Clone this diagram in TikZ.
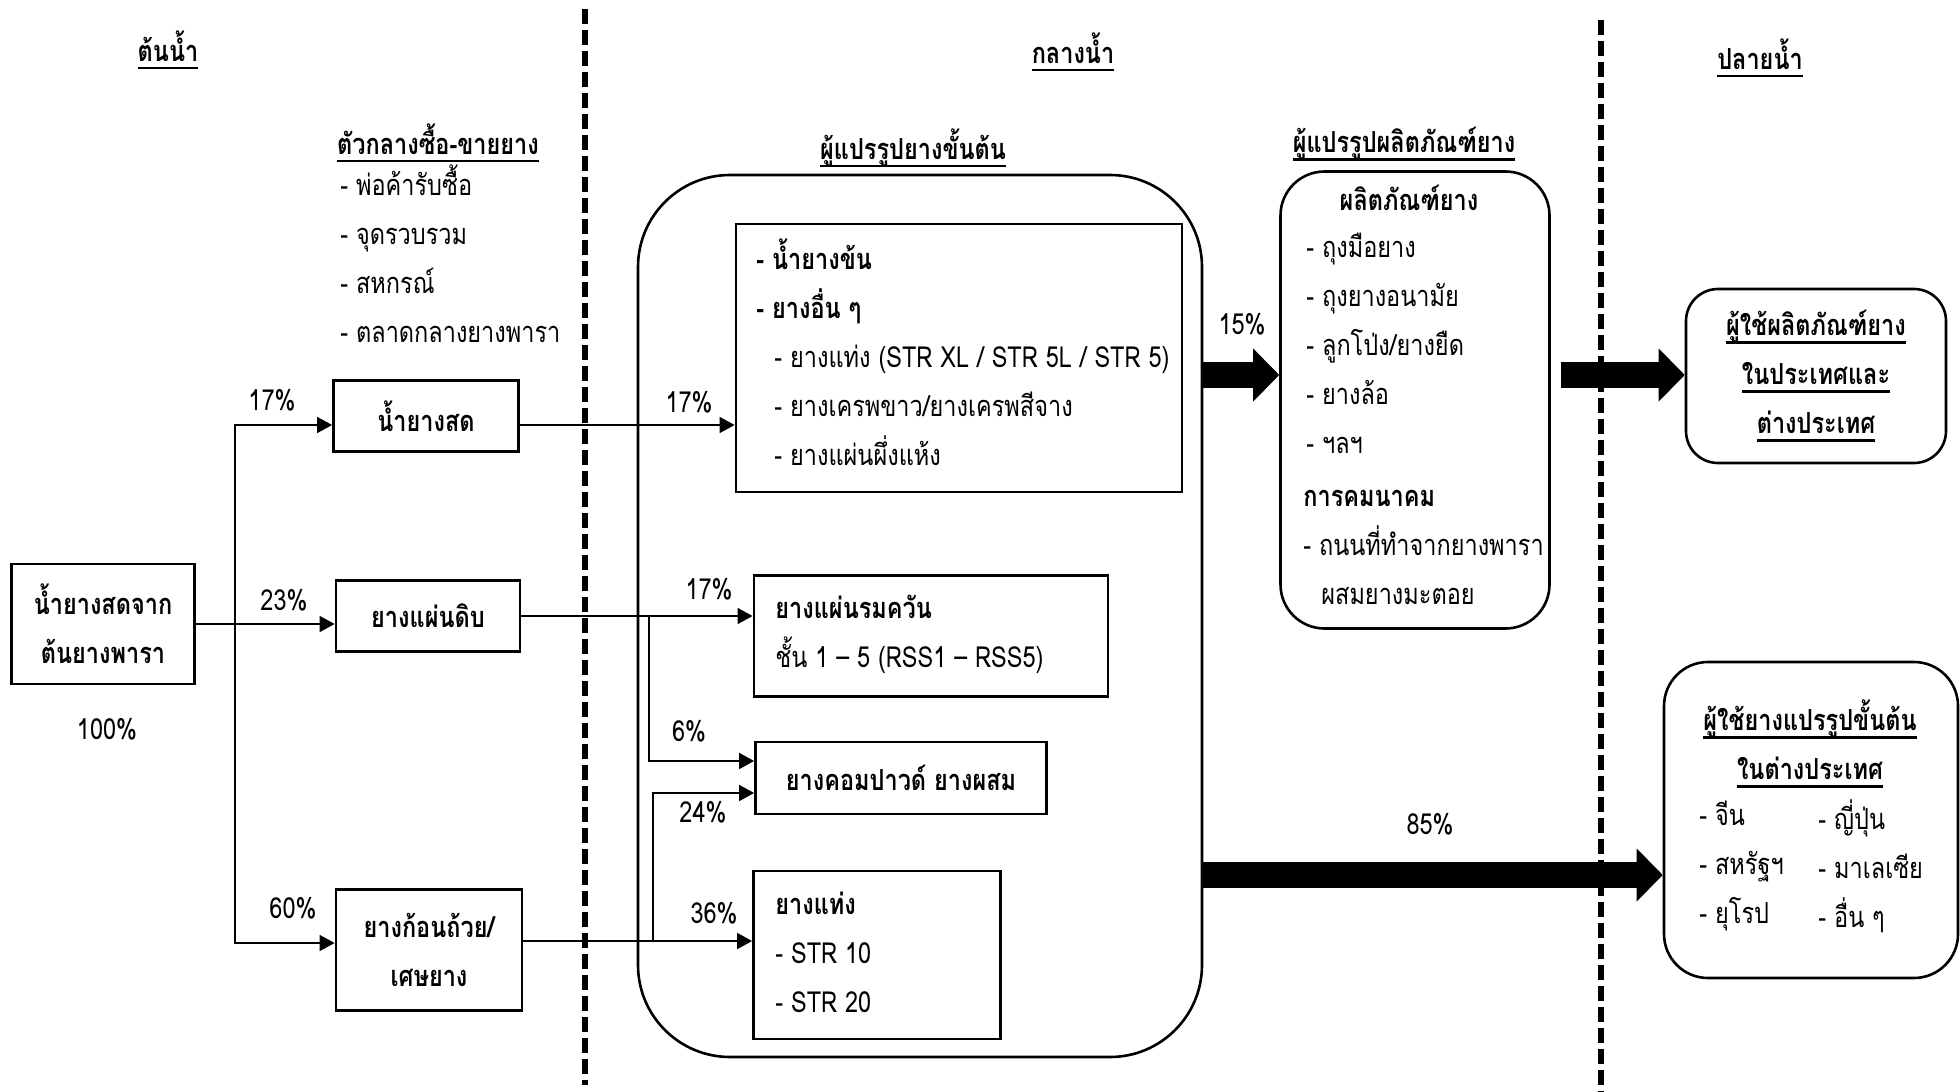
\documentclass[tikz,border=0pt]{standalone}
\usepackage{fontspec}
\setmainfont[Script=Thai, FakeStretch=0.81]{Loma}
\usetikzlibrary{arrows.meta}
% underline drawn as a rule below the whole word
\newcommand\ulword[1]{\setbox0\hbox{#1}\rlap{\rule[-0.28em]{\wd0}{0.09em}}\box0}
\begin{document}
\begin{tikzpicture}[x=0.5pt,y=-0.5pt,
  every node/.style={font=\fontsize{14.5pt}{24.5pt}\selectfont, inner sep=0pt},
  hd/.style={font=\fontsize{14.5pt}{24.5pt}\selectfont\bfseries},
  wh/.style 2 args={minimum width=#1*0.5pt, minimum height=#2*0.5pt},
  sqbox/.style={draw, line width=1.4pt},
  rbox/.style={draw, line width=1.3pt, rounded corners=#1},
  arr/.style={line width=0.8pt, -{Triangle[length=7.5pt,width=8pt]}},
  divider/.style={line width=2.7pt, dash pattern=on 7.5pt off 3pt},
  fat/.style={line width=13pt, -{Triangle[length=13pt,width=26.5pt,line width=0pt]}},
]
\useasboundingbox (0,0) rectangle (1960,1092);

% stage dividers
\draw[divider] (585,9) -- (585,1085);
\draw[divider] (1601,20) -- (1601,1092);

% stage titles
\node[hd] (tUp) at (168,50) {\ulword{ต้นน้ำ}};
\node[hd] (tMid) at (1073,52) {\ulword{กลางน้ำ}};
\node[hd] (tDown) at (1760,58) {\ulword{ปลายน้ำ}};

% upstream
\node[hd] (tTrader) at (438,143) {\ulword{ตัวกลางซื้อ-ขายยาง}};
\node[anchor=west, align=left] (traders) at (340,254) {- พ่อค้ารับซื้อ\\- จุดรวบรวม\\- สหกรณ์\\- ตลาดกลางยางพารา};

\node[sqbox, hd, wh={183}{120}, align=center] (src) at (103,624) {น้ำยางสดจาก\\ต้นยางพารา};
\node (p100) at (107,729) {100\%};

\node[sqbox, hd, wh={185}{71}] (latex) at (426,416) {น้ำยางสด};
\node[sqbox, hd, wh={184}{71}] (sheet) at (428,616) {ยางแผ่นดิบ};
\node[sqbox, hd, wh={186}{121}, align=center] (cup) at (429,950) {ยางก้อนถ้วย/\\เศษยาง};

\node (p17a) at (272,400) {17\%};
\node (p23) at (284,600) {23\%};
\node (p60) at (293,908) {60\%};

% midstream: primary processors
\node[hd] (tProc) at (913,148) {\ulword{ผู้แปรรูปยางขั้นต้น}};
\node[rbox=46pt, wh={564}{882}] (mid) at (920,616) {};

\node[sqbox, wh={446}{268}] (box1) at (959,358) {};
\node[anchor=west, align=left] (box1txt) at (756,352) {\textbf{- น้ำยางข้น}\\\textbf{- ยางอื่น ๆ}\\\hspace*{9pt}- ยางแท่ง (STR XL / STR 5L / STR 5)\\\hspace*{9pt}- ยางเครพขาว/ยางเครพสีจาง\\\hspace*{9pt}- ยางแผ่นผึ่งแห้ง};

\node[sqbox, wh={354}{121}] (box2) at (931,636) {};
\node[anchor=west, align=left] (box2txt) at (775,634) {\textbf{ยางแผ่นรมควัน}\\ชั้น 1 – 5 (RSS1 – RSS5)};

\node[sqbox, hd, wh={291}{72}] (box3) at (901,778) {ยางคอมปาวด์ ยางผสม};

\node[sqbox, wh={247}{168}] (box4) at (877,955) {};
\node[anchor=west, align=left] (box4txt) at (775,952) {\textbf{ยางแท่ง}\\- STR 10\\- STR 20};

\node (p17b) at (689,402) {17\%};
\node (p17c) at (709,589) {17\%};
\node (p6) at (689,731) {6\%};
\node (p24) at (703,812) {24\%};
\node (p36) at (714,913) {36\%};

% midstream: product manufacturers
\node[hd] (tMfr) at (1404,144) {\ulword{ผู้แปรรูปผลิตภัณฑ์ยาง}};
\node[rbox=22pt, wh={269}{457}] (prod) at (1415,400) {};
\node[hd] (prodHead) at (1409,198) {ผลิตภัณฑ์ยาง};
\node[anchor=west, align=left] (prodList) at (1306,343) {- ถุงมือยาง\\- ถุงยางอนามัย\\- ลูกโป่ง/ยางยืด\\- ยางล้อ\\- ฯลฯ};
\node[anchor=west, align=left] (transport) at (1303,547) {\textbf{การคมนาคม}\\- ถนนที่ทำจากยางพารา\\\hspace*{9pt}ผสมยางมะตอย};
\node (p15) at (1242,324) {15\%};

% downstream
\node[rbox=16pt, wh={260}{174}, hd, align=center] (users) at (1816,376) {\ulword{ผู้ใช้ผลิตภัณฑ์ยาง}\\\ulword{ในประเทศและ}\\\ulword{ต่างประเทศ}};
\node[rbox=22pt, wh={294}{316}] (foreign) at (1811,820) {};
\node[hd, align=center] (foreignHead) at (1810,744) {\ulword{ผู้ใช้ยางแปรรูปขั้นต้น}\\\ulword{ในต่างประเทศ}};
\node[anchor=west, align=left] (colA) at (1699,866) {- จีน\\- สหรัฐฯ\\- ยุโรป};
\node[anchor=west, align=left] (colB) at (1818,866) {- ญี่ปุ่น\\- มาเลเซีย\\- อื่น ๆ};
\node (p85) at (1430,824) {85\%};

% branch points
\coordinate (ja) at (235,425);
\coordinate (jb) at (235,943);
\coordinate (k6) at (649,761);
\coordinate (k24) at (653,793);
\coordinate (kc) at (653,941);
\coordinate (y15) at (0,375);
\coordinate (y85) at (0,875);

% thin connectors
\draw[arr] (src.east) -- (sheet.west |- src.east);
\draw[arr] (ja |- src.east) -- (ja) -- (latex.west |- ja);
\draw[arr] (jb |- src.east) -- (jb) -- (cup.west |- jb);
\draw[arr] (latex.east |- ja) -- (box1.west |- ja);
\draw[arr] (sheet.east) -- (box2.west |- sheet.east);
\draw[arr] (k6 |- sheet.east) -- (k6) -- (box3.west |- k6);
\draw[arr] (cup.east |- kc) -- (box4.west |- kc);
\draw[arr] (kc) -- (k24) -- (box3.west |- k24);

% block arrows
\draw[fat] (mid.east |- y15) -- (prod.west |- y15);
\draw[fat] ([xshift=5pt]prod.east |- y15) -- (users.west |- y15);
\draw[fat] (mid.east |- y85) -- (foreign.west |- y85);
\end{tikzpicture}
\end{document}
